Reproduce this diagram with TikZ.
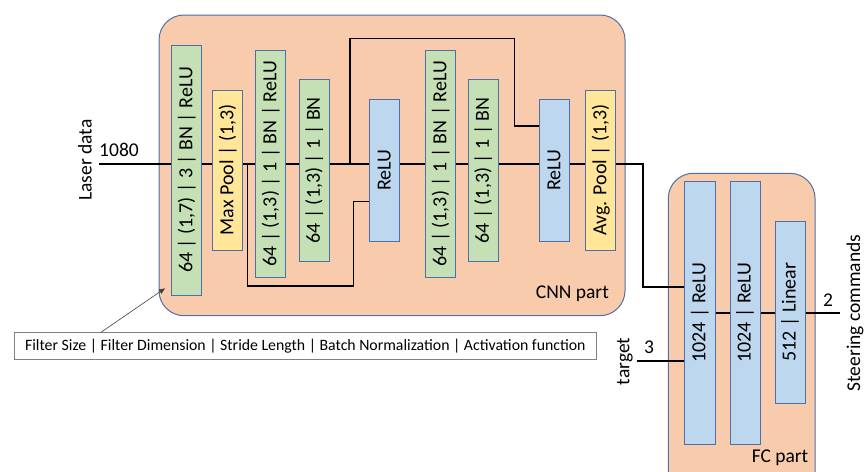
\documentclass[tikz,border=0pt]{standalone}
\usepackage{fontspec}
\setmainfont{Carlito}
\usetikzlibrary{arrows.meta}
\pgfdeclarelayer{back}
\pgfdeclarelayer{mid}
\pgfsetlayers{back,mid,main}
\definecolor{peach}{HTML}{F8CBAD}
\definecolor{edgeblue}{HTML}{4F6FA8}
\definecolor{gfill}{HTML}{C5E0B4}
\definecolor{yfill}{HTML}{FFE699}
\definecolor{bfill}{HTML}{BDD7EE}
\definecolor{legendgray}{HTML}{808080}
\begin{document}
\begin{tikzpicture}[x=1pt,y=-1pt,
  blk/.style={draw=edgeblue, line width=0.9pt, inner sep=0pt, minimum width=30pt, font=\fontsize{20}{20}\selectfont},
  conv/.style={blk, fill=gfill},
  pool/.style={blk, fill=yfill},
  act/.style={blk, fill=bfill},
  part/.style={draw=edgeblue, fill=peach, line width=1pt, rounded corners=25pt},
  mainline/.style={line width=2pt, black},
  skipline/.style={line width=1.1pt, black},
  lbl/.style={font=\fontsize{19.5}{19.5}\selectfont, inner sep=0pt},
]
\clip (0,0) rectangle (864,471);

% containers
\begin{pgfonlayer}{back}
\draw[part] (159,15) rectangle (625,315.7);
\draw[part] (668.3,173.3) rectangle (815,500);
\end{pgfonlayer}
\node[lbl, anchor=east] (cnnlbl) at (609,294) {CNN part};
\node[lbl] (fclbl) at (780,458) {FC part};

% CNN blocks
\node[conv, minimum height=250pt]   (b1) at (186.7,170)  {\rotatebox{90}{64 | (1,7) | 3 | BN | ReLU}};
\node[pool, minimum height=160pt]   (mp) at (227.7,170)  {\rotatebox{90}{Max Pool | (1,3)}};
\node[conv, minimum height=227.7pt] (b3) at (270.7,163.85) {\rotatebox{90}{64 | (1,3) | 1 | BN | ReLU}};
\node[conv, minimum height=182.7pt] (b4) at (314.3,170.35) {\rotatebox{90}{64 | (1,3) | 1 | BN}};
\node[act,  minimum height=141.7pt] (r1) at (384.3,170.15) {\rotatebox{90}{ReLU}};
\node[conv, minimum height=227.7pt] (b6) at (440.7,163.85) {\rotatebox{90}{64 | (1,3) | 1 | BN | ReLU}};
\node[conv, minimum height=182.4pt] (b7) at (483.3,170.5) {\rotatebox{90}{64 | (1,3) | 1 | BN}};
\node[act,  minimum height=141.7pt] (r2) at (554,170.15) {\rotatebox{90}{ReLU}};
\node[pool, minimum height=160pt]   (ap) at (600.7,170)  {\rotatebox{90}{Avg. Pool | (1,3)}};

% FC blocks
\node[act, minimum width=30.7pt, minimum height=263.3pt] (f1) at (699.7,312.7) {\rotatebox{90}{1024 | ReLU}};
\node[act, minimum height=263.3pt] (f2) at (745,312.7) {\rotatebox{90}{1024 | ReLU}};
\node[act, minimum height=182.3pt] (f3) at (790,312.2) {\rotatebox{90}{512 | Linear}};

% coordinates
\coordinate (in) at (99.3,164.3);
\coordinate (turn) at (643.3,164.3);
\coordinate (skipA) at (350,164.3);
\coordinate (skipB) at (247.7,164.3);
\coordinate (tin) at (636.7,361);
\coordinate (out) at (840,312.7);

% lines
\begin{pgfonlayer}{mid}
\draw[mainline] (in) -- (turn) |- (f1.west |- 0,286.7);
\draw[skipline] (skipA) |- (514.3,38.3) |- (r2.west |- 0,126);
\draw[skipline] (skipB) |- (353.3,286) |- (r1.west |- 0,201.7);
\draw[mainline] (tin) -- (f1.west |- tin);
\draw[mainline] (f1.east |- out) -- (f2.west |- out);
\draw[mainline] (f2.east |- out) -- (f3.west |- out);
\draw[mainline] (f3.east |- out) -- (out);
\end{pgfonlayer}

% labels
\node[lbl, rotate=90] (laser) at (85,160) {Laser data};
\node[lbl] (n1080) at (119,150) {1080};
\node[lbl, rotate=90] (target) at (625,361.5) {target};
\node[lbl] (n3) at (649,347) {3};
\node[lbl] (n2) at (828,300) {2};
\node[lbl, rotate=90] (steer) at (855,313) {Steering commands};

% legend
\node[draw=legendgray, fill=white, line width=0.9pt, minimum width=581.3pt, minimum height=27pt, inner sep=0pt, font=\fontsize{15.8}{15.8}\selectfont] (legend) at (305.35,345.8) {Filter Size | Filter Dimension | Stride Length | Batch Normalization | Activation function};
\coordinate (legsrc) at (101,332.3);
\draw[line width=0.6pt, black!75, -{Triangle[length=6pt,width=5pt]}] (legsrc) -- (165,288.3);
\end{tikzpicture}
\end{document}
